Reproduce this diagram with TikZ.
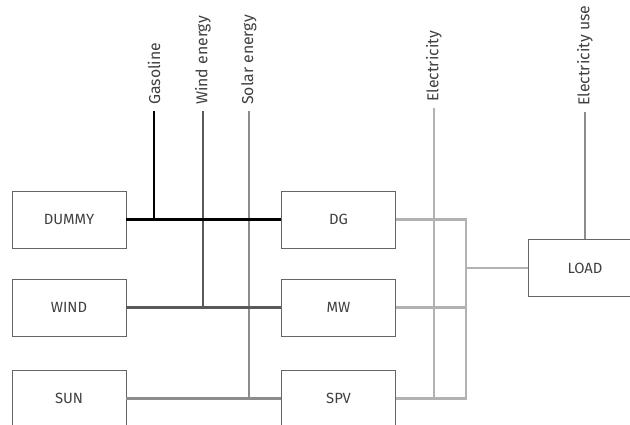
\documentclass[tikz,border=0pt]{standalone}
\usepackage{fontspec}
\setmainfont{Fira Sans}
\begin{document}
\begin{tikzpicture}[x=1pt,y=-1pt,
  box/.style={draw=black!60,line width=0.8pt,minimum width=114pt,minimum height=57pt,inner sep=0pt,text=black!75,font=\fontsize{14.8}{17}\selectfont},
  lbl/.style={rotate=90,anchor=west,inner sep=0pt,text=black!75,font=\fontsize{15.8}{19}\selectfont},
  wire/.style={line width=2.4pt},
  cgas/.style={wire,draw=black},
  cwind/.style={wire,draw=black!65},
  csolar/.style={wire,draw=black!45},
  celec/.style={wire,draw=black!30},
  cuse/.style={wire,draw=black!45}]
\useasboundingbox[fill=white] (0,0) rectangle (630,425);
\node[box] (dummy) at (69,219.5) {DUMMY};
\node[box] (wind) at (69,307.5) {WIND};
\node[box] (sun) at (69,398.5) {SUN};
\node[box] (dg) at (338.5,219.5) {DG};
\node[box] (mw) at (338.5,307.5) {MW};
\node[box] (spv) at (338.5,398.5) {SPV};
\node[box] (load) at (585,268) {LOAD};
% top ends of the vertical lines
\coordinate (gtop) at (154,111);
\coordinate (wtop) at (203,111);
\coordinate (stop) at (249,111);
\coordinate (etop) at (434,108);
\coordinate (utop) at (585,112);
\coordinate (bus) at (466,268);
\node[lbl] (lgas) at ([yshift=6pt]gtop) {Gasoline};
\node[lbl] (lwind) at ([yshift=6pt]wtop) {Wind energy};
\node[lbl] (lsolar) at ([yshift=6pt]stop) {Solar energy};
\node[lbl] (lelec) at ([yshift=6pt]etop) {Electricity};
\node[lbl] (luse) at ([yshift=6pt]utop) {Electricity use};
% electricity
\draw[celec] (etop) -- (etop |- spv.east);
\draw[celec] (dg.east) -- (dg.east -| bus) -- (spv.east -| bus) -- (spv.east);
\draw[celec] (mw.east) -- (mw.east -| bus);
\draw[celec] (bus) -- (load.west);
\draw[cuse] (utop) -- (load.north);
% solar
\draw[csolar] (stop) -- (stop |- sun.east);
\draw[csolar] (sun.east) -- (spv.west);
% wind
\draw[cwind] (wtop) -- (wtop |- wind.east);
\draw[cwind] (wind.east) -- (mw.west);
% gasoline
\draw[cgas] (gtop) -- (gtop |- dummy.east);
\draw[cgas] (dummy.east) -- (dg.west);
\end{tikzpicture}
\end{document}
